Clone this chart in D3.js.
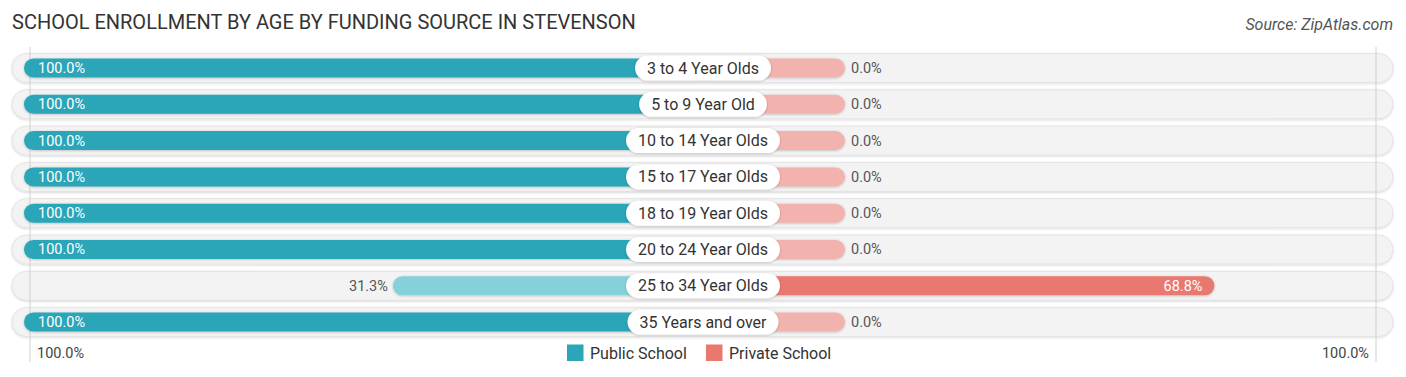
<!DOCTYPE html>
<html>
<head>
<meta charset="utf-8">
<script src="https://cdn.jsdelivr.net/npm/d3@7"></script>
<style>
  html, body { margin: 0; padding: 0; background: #fff; }
  svg { display: block; font-family: Roboto, "Noto Sans", sans-serif; }
</style>
</head>
<body>
<svg id="chart" width="1406" height="377"></svg>
<script>
const categories = ["3 to 4 Year Olds", "5 to 9 Year Old", "10 to 14 Year Olds", "15 to 17 Year Olds",
  "18 to 19 Year Olds", "20 to 24 Year Olds", "25 to 34 Year Olds", "35 Years and over"];
const publicValues = [100.0, 100.0, 100.0, 100.0, 100.0, 100.0, 31.3, 100.0];
const privateValues = [0.0, 0.0, 0.0, 0.0, 0.0, 0.0, 68.8, 0.0];
const seriesNames = ["Public School", "Private School"];
const axisTickLabels = ["100.0%", "100.0%"];
const titleText = "SCHOOL ENROLLMENT BY AGE BY FUNDING SOURCE IN STEVENSON";
const sourceText = "Source: ZipAtlas.com";

const svg = d3.select("#chart");
const cx = 703;

const colors = {
  pubStrong: "#2aa6b8", pubLight: "#86d0da",
  privStrong: "#e9786f", privLight: "#f2b3af"
};

const y = d3.scaleBand().domain(categories).range([49.9, 340.2]);
const w = d3.scaleLinear().domain([0, 100]).range([142, 679]);

const defs = svg.append("defs");
const f = defs.append("filter").attr("id", "sh").attr("x", "-10%").attr("y", "-50%").attr("width", "120%").attr("height", "200%");
f.append("feDropShadow").attr("dx", 0).attr("dy", 0.6).attr("stdDeviation", 1).attr("flood-color", "#000").attr("flood-opacity", 0.25);
const f2 = defs.append("filter").attr("id", "tsh").attr("x", "-5%").attr("y", "-50%").attr("width", "110%").attr("height", "200%");
f2.append("feDropShadow").attr("dx", 0).attr("dy", 0.8).attr("stdDeviation", 0.9).attr("flood-color", "#000").attr("flood-opacity", 0.18);

// title & source
svg.append("text").attr("x", 12).attr("y", 29).attr("font-size", 20).attr("fill", "#333")
  .text(titleText);
svg.append("text").attr("x", 1393).attr("y", 30).attr("font-size", 16).attr("font-style", "italic")
  .attr("text-anchor", "end").attr("fill", "#555").text(sourceText);

// tracks
const rows = svg.append("g");
categories.forEach((c) => {
  const yc = y(c) + y.bandwidth() / 2;
  rows.append("rect").attr("x", 12).attr("y", yc - 14.5).attr("width", 1381).attr("height", 29)
    .attr("rx", 14.5).attr("fill", "#f3f3f3").attr("stroke", "#e0e0e0").attr("stroke-width", 0.8)
    .attr("filter", "url(#tsh)");
});

// vertical guide lines
[30, 1376].forEach(x => {
  svg.append("line").attr("x1", x).attr("x2", x).attr("y1", 47).attr("y2", 362)
    .attr("stroke", "#cfcfcf").attr("stroke-width", 1);
});

const bh = 19;
const fmt = v => v.toFixed(1) + "%";
categories.forEach((c, i) => {
  const yc = y(c) + y.bandwidth() / 2;
  const pv = publicValues[i], qv = privateValues[i];
  const pw = w(pv), qw = w(qv);
  const pStrong = pv >= 50, qStrong = qv >= 50;
  svg.append("rect").attr("x", cx - pw).attr("y", yc - bh / 2).attr("width", pw + 10).attr("height", bh)
    .attr("rx", bh / 2).attr("fill", pStrong ? colors.pubStrong : colors.pubLight).attr("filter", "url(#sh)");
  svg.append("rect").attr("x", cx - 10).attr("y", yc - bh / 2).attr("width", qw + 10).attr("height", bh)
    .attr("rx", bh / 2).attr("fill", qStrong ? colors.privStrong : colors.privLight).attr("filter", "url(#sh)");

  const t = svg.append("text").attr("x", cx).attr("y", yc + 5.5).attr("text-anchor", "middle")
    .attr("font-size", 16).attr("fill", "#333").text(c);
  const tw = t.node().getComputedTextLength();
  svg.insert("rect", () => t.node()).attr("x", cx - tw / 2 - 12).attr("y", yc - 12.5).attr("width", tw + 24)
    .attr("height", 25).attr("rx", 12.5).attr("fill", "#fff").attr("filter", "url(#sh)");

  if (pStrong) {
    svg.append("text").attr("x", cx - pw + 14).attr("y", yc + 5).attr("font-size", 14.5).attr("fill", "#fff").text(fmt(pv));
  } else {
    svg.append("text").attr("x", cx - pw - 5).attr("y", yc + 5).attr("font-size", 14.5).attr("fill", "#555")
      .attr("text-anchor", "end").text(fmt(pv));
  }
  if (qStrong) {
    svg.append("text").attr("x", cx + qw - 12).attr("y", yc + 5).attr("font-size", 14.5).attr("fill", "#fff")
      .attr("text-anchor", "end").text(fmt(qv));
  } else {
    svg.append("text").attr("x", cx + qw + 6).attr("y", yc + 5).attr("font-size", 14.5).attr("fill", "#555").text(fmt(qv));
  }
});

// bottom axis labels
svg.append("text").attr("x", 37).attr("y", 358).attr("font-size", 14.5).attr("fill", "#444").text(axisTickLabels[0]);
svg.append("text").attr("x", 1369).attr("y", 358).attr("font-size", 14.5).attr("fill", "#444")
  .attr("text-anchor", "end").text(axisTickLabels[1]);

// legend
const legend = svg.append("g");
const legendItems = [
  { name: seriesNames[0], color: colors.pubStrong, x: 567 },
  { name: seriesNames[1], color: colors.privStrong, x: 706 }
];
legendItems.forEach(d => {
  legend.append("rect").attr("x", d.x).attr("y", 344.5).attr("width", 16.5).attr("height", 16.5).attr("fill", d.color);
  legend.append("text").attr("x", d.x + 23).attr("y", 358.5).attr("font-size", 16).attr("fill", "#333").text(d.name);
});
</script>
</body>
</html>
